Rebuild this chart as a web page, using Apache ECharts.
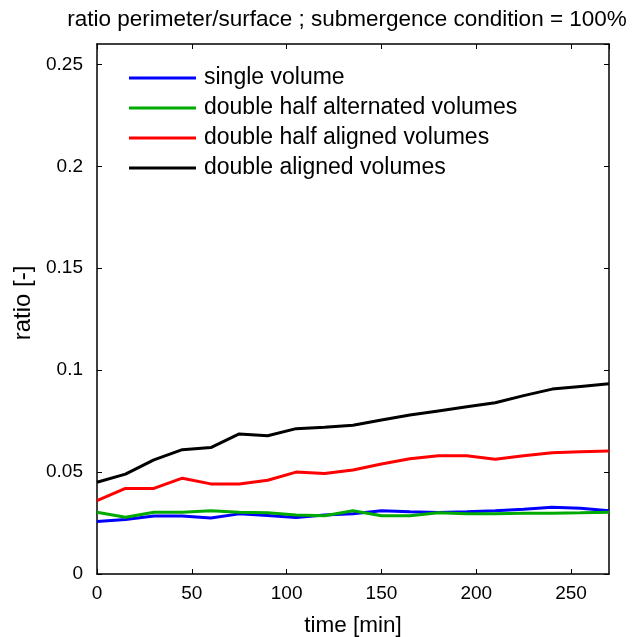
<!DOCTYPE html>
<html>
<head>
<meta charset="utf-8">
<script src="https://cdn.jsdelivr.net/npm/echarts@6/dist/echarts.min.js"></script>
<style>
  html, body { margin: 0; padding: 0; background: #fff; }
  #chart { width: 634px; height: 637px; }
</style>
</head>
<body>
<div id="chart"></div>
<script>
// Sampling times (minutes)
const times = [0, 15, 30, 45, 60, 75, 90, 105, 120, 135, 150, 165, 180, 195, 210, 225, 240, 255, 270];

// Perimeter/surface ratio for each configuration
const singleVolume = [0.0258, 0.0267, 0.0285, 0.0285, 0.0275, 0.0295, 0.0287, 0.0277, 0.029, 0.0295, 0.031, 0.0305, 0.0302, 0.0305, 0.031, 0.0318, 0.0327, 0.0322, 0.031];
const doubleHalfAlternated = [0.0303, 0.0278, 0.0303, 0.0303, 0.031, 0.0303, 0.030, 0.029, 0.0286, 0.031, 0.0286, 0.0286, 0.030, 0.0295, 0.0295, 0.0298, 0.0298, 0.030, 0.0303];
const doubleHalfAligned = [0.036, 0.042, 0.042, 0.047, 0.0442, 0.0442, 0.046, 0.050, 0.0493, 0.051, 0.054, 0.0565, 0.058, 0.058, 0.0563, 0.058, 0.0595, 0.060, 0.0603];
const doubleAligned = [0.045, 0.049, 0.056, 0.061, 0.062, 0.0687, 0.0678, 0.0713, 0.072, 0.073, 0.0755, 0.078, 0.080, 0.082, 0.084, 0.0875, 0.0907, 0.092, 0.0933];

const seriesNames = ['single volume', 'double half alternated volumes', 'double half aligned volumes', 'double aligned volumes'];
const seriesColors = ['#0000ff', '#00aa00', '#ff0000', '#000000'];
const seriesValues = [singleVolume, doubleHalfAlternated, doubleHalfAligned, doubleAligned];

const FONT = '"Liberation Sans", Arial, sans-serif';

const chart = echarts.init(document.getElementById('chart'), null, { renderer: 'canvas' });

const frameLine = { show: true, onZero: false, lineStyle: { color: '#000', width: 1.5 } };
const innerTicks = { show: true, inside: true, length: 5, lineStyle: { color: '#000', width: 1 } };

chart.setOption({
  animation: false,
  backgroundColor: '#fff',
  title: {
    text: 'ratio perimeter/surface ; submergence condition = 100%',
    left: 342, top: 3, textAlign: 'center',
    textStyle: { fontFamily: FONT, fontSize: 22.5, fontWeight: 'normal', color: '#000' }
  },
  legend: {
    orient: 'vertical',
    left: 124, top: 61,
    itemWidth: 67, itemHeight: 3, itemGap: 6,
    icon: 'rect',
    textStyle: { fontFamily: FONT, fontSize: 23, color: '#000', lineHeight: 24, padding: [0, 0, 0, 3] },
    data: seriesNames
  },
  grid: { left: 97, right: 25, top: 44, bottom: 63, containLabel: false, outerBoundsMode: 'none' },
  xAxis: [
    {
      type: 'value', min: 0, max: 270, interval: 50,
      name: 'time [min]', nameLocation: 'middle', nameGap: 40,
      nameTextStyle: { fontFamily: FONT, fontSize: 22.5, color: '#000' },
      axisLine: frameLine, axisTick: innerTicks,
      axisLabel: { fontFamily: FONT, fontSize: 19, color: '#000', margin: 10, showMaxLabel: false },
      splitLine: { show: false }
    },
    {
      type: 'value', position: 'top', min: 0, max: 270, interval: 50,
      axisLine: frameLine, axisTick: innerTicks,
      axisLabel: { show: false }, splitLine: { show: false }
    }
  ],
  yAxis: [
    {
      type: 'value', min: 0, max: 0.26, interval: 0.05,
      name: 'ratio [-]', nameLocation: 'middle', nameGap: 59, nameRotate: 90,
      nameTextStyle: { fontFamily: FONT, fontSize: 24, color: '#000', padding: [0, 0, 0, 12] },
      axisLine: frameLine, axisTick: innerTicks,
      axisLabel: { fontFamily: FONT, fontSize: 19, color: '#000', margin: 14, showMaxLabel: false },
      splitLine: { show: false }
    },
    {
      type: 'value', position: 'right', min: 0, max: 0.26, interval: 0.05,
      axisLine: frameLine, axisTick: innerTicks,
      axisLabel: { show: false }, splitLine: { show: false }
    }
  ],
  series: seriesValues.map((vals, i) => ({
    name: seriesNames[i],
    type: 'line',
    xAxisIndex: 0, yAxisIndex: 0,
    data: times.map((t, k) => [t, vals[k]]),
    showSymbol: false,
    symbol: 'none',
    color: seriesColors[i],
    lineStyle: { color: seriesColors[i], width: 3 },
    itemStyle: { color: seriesColors[i] }
  }))
});
</script>
</body>
</html>
